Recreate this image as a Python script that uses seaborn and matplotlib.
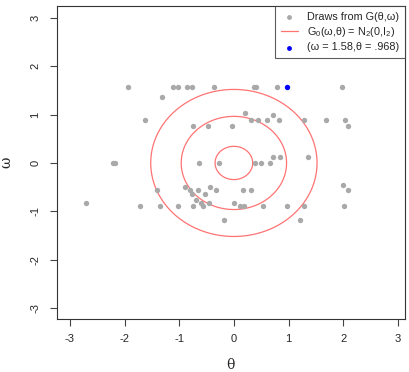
import numpy as np
import pandas as pd
import matplotlib
matplotlib.use('Agg')
import matplotlib.pyplot as plt
import seaborn as sns

# --- DATA ---
# draws from G, grouped by their (shared) omega atom
OMEGA_ROWS = [1.58, 1.37, 1.03, 1.00, 0.88, 0.76, 0.13, 0.0, -0.46, -0.50, -0.57, -0.64, -0.76, -0.83, -0.90, -1.19]
THETA_ROWS = [
    [-1.94, -1.12, -1.02, -0.85, -0.77, -0.36, 0.37, 0.40, 0.79, 1.97],
    [-1.32],
    [0.21],
    [0.71],
    [-1.63, 0.32, 0.44, 0.60, 0.83, 1.29, 1.68, 2.03],
    [-0.74, -0.47, -0.03, 2.08],
    [0.72, 0.84, 1.36],
    [-2.21, -2.18, -0.64, -0.27, 0.38, 0.49, 0.66],
    [2.00],
    [-0.90, -0.44],
    [-1.41, -0.80, -0.65, -0.32, 0.17, 0.32, 2.09],
    [-0.77, -0.53],
    [-0.70],
    [-2.71, -0.60, -0.46, 0.0],
    [-1.72, -1.35, -1.02, -0.74, -0.56, 0.11, 0.18, 0.54, 0.98, 1.29, 2.02],
    [-0.18, 1.21],
]
HIGHLIGHT_THETA = 0.968
HIGHLIGHT_OMEGA = 1.58
DENSITY_LEVELS = [0.05, 0.10, 0.15]   # contour levels of N2(0, I2)
TICKS = [-3, -2, -1, 0, 1, 2, 3]

LBL_DRAWS = 'Draws from G(θ,ω)'
LBL_BASE = r'G$_0$(ω,θ) = N$_2$(0,I$_2$)'
LBL_POINT = '(ω = 1.58,θ = .968)'

# --- build table ---
rows = []
for om, ths in zip(OMEGA_ROWS, THETA_ROWS):
    for th in ths:
        rows.append((th, om))
df = pd.DataFrame(rows, columns=['theta', 'omega'])
df_hi = pd.DataFrame({'theta': [HIGHLIGHT_THETA], 'omega': [HIGHLIGHT_OMEGA]})

sns.set_style('ticks')
plt.rcParams['font.family'] = ['Liberation Sans', 'DejaVu Sans']
plt.rcParams['mathtext.fontset'] = 'custom'
plt.rcParams['mathtext.rm'] = 'Liberation Sans'
plt.rcParams['mathtext.it'] = 'Liberation Sans'

fig = plt.figure(figsize=(4.09, 3.72), dpi=100)
ax = fig.add_axes([0.139, 0.1425, 0.851, 0.8415])

sns.scatterplot(data=df, x='theta', y='omega', ax=ax, color='#a9a9a9',
                s=15, linewidth=0, label=LBL_DRAWS, zorder=3)

# contours of the standard bivariate normal density
g = np.linspace(-3.3, 3.3, 400)
gx, gy = np.meshgrid(g, g)
dens = np.exp(-(gx ** 2 + gy ** 2) / 2) / (2 * np.pi)
ax.contour(gx, gy, dens, levels=DENSITY_LEVELS, colors='#ff7373', linewidths=0.9, zorder=2)
ax.plot([], [], color='#ff7373', lw=0.9, label=LBL_BASE)

sns.scatterplot(data=df_hi, x='theta', y='omega', ax=ax, color='#0000ff',
                s=15, linewidth=0, label=LBL_POINT, zorder=4)

ax.set_xlim(-3.24, 3.13)
ax.set_ylim(-3.23, 3.25)
ax.set_xticks(TICKS)
ax.set_yticks(TICKS)
ax.set_xticklabels([str(t) for t in TICKS])
ax.set_yticklabels([str(t) for t in TICKS], rotation=90, va='center')
ax.tick_params(axis='both', labelsize=8, length=5, width=0.8, color='#444444', direction='out')
ax.tick_params(axis='x', pad=6)
ax.tick_params(axis='y', pad=7)
for sp in ax.spines.values():
    sp.set_visible(True)
    sp.set_color('#333333')
    sp.set_linewidth(0.8)

ax.set_xlabel('θ', fontsize=10, family=['DejaVu Serif'], labelpad=10)
ax.set_ylabel('ω', fontsize=10, family=['DejaVu Serif'], labelpad=12)

leg = ax.legend(loc='upper right', fontsize=7.8, frameon=True, fancybox=False,
                borderaxespad=0, handlelength=1.6, handletextpad=0.8,
                labelspacing=0.3, borderpad=0.55, markerscale=0.9)
leg.get_frame().set_edgecolor('#333333')
leg.get_frame().set_linewidth(0.8)

fig.savefig('out.png', dpi=100)
